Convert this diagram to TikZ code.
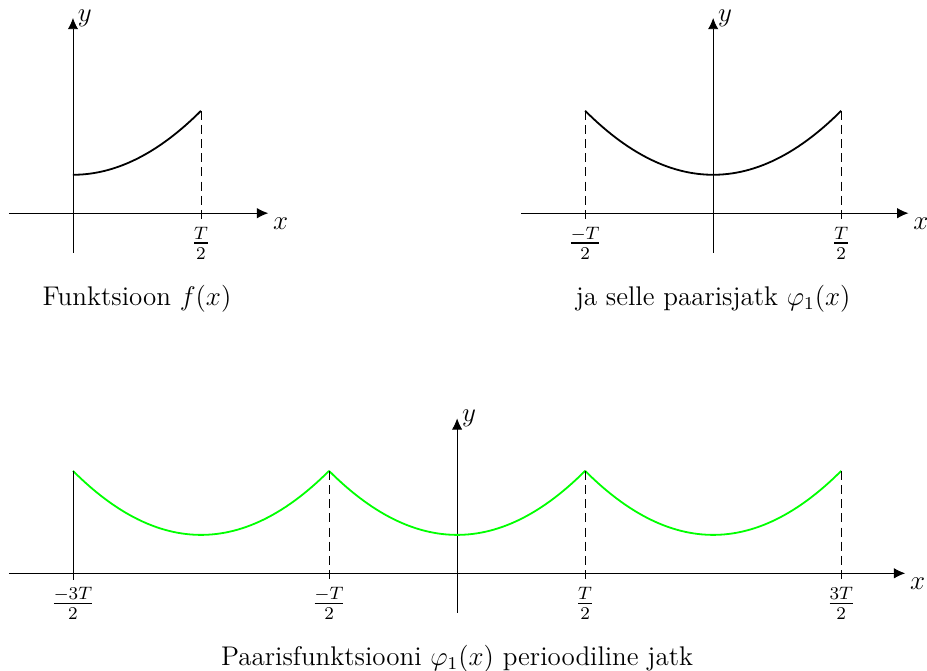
\documentclass[tikz,border=0pt,12pt]{standalone}
\usepackage{amsmath}
\usetikzlibrary{arrows.meta}

\begin{document}
\begin{tikzpicture}[
  axis/.style={-{Latex[length=5pt,width=4.6pt]}},
  curve/.style={thick},
  guide/.style={dash pattern=on 4pt off 2.3pt},
  tick/.style={below, inner sep=3pt},
  caption/.style={align=center}
]
\useasboundingbox (-1.14,-7.14) rectangle (13.34,3.33);

% f(x) on [0,T/2]
\coordinate (xl) at (-1,0);
\coordinate (xr) at (3.05,0);
\coordinate (yd) at (0,-0.62);
\coordinate (yu) at (0,3.05);
\draw[axis] (xl) -- (xr) node[below right, inner sep=2pt] (xlab) {$x$};
\draw[axis] (yd) -- (yu) node[right, inner sep=2pt] (ylab) {$y$};
\draw[curve, domain=0:2, samples=40] plot (\x, {0.6+\x*\x/4});
\draw[guide] (2,1.6) -- (2,-0.1) node[tick] (half) {$\frac{T}{2}$};
\node[caption] (capf) at (1,-1.33) {Funktsioon $f(x)$};

% even extension
\begin{scope}[xshift=10cm]
  \coordinate (exl) at (-3,0);
  \coordinate (exr) at (3.05,0);
  \coordinate (eyd) at (0,-0.62);
  \coordinate (eyu) at (0,3.05);
  \draw[axis] (exl) -- (exr) node[below right, inner sep=2pt] (exlab) {$x$};
  \draw[axis] (eyd) -- (eyu) node[right, inner sep=2pt] (eylab) {$y$};
  \draw[curve, domain=-2:2, samples=60] plot (\x, {0.6+\x*\x/4});
  \draw[guide] (-2,1.6) -- (-2,-0.1) node[tick] (emhalf) {$\frac{-T}{2}$};
  \draw[guide] (2,1.6) -- (2,-0.1) node[tick] (ehalf) {$\frac{T}{2}$};
  \node[caption] (cape) at (0,-1.33) {ja selle paarisjatk $\varphi_1(x)$};
\end{scope}

% periodic extension
\begin{scope}[shift={(6,-5.625)}]
  \coordinate (pxl) at (-7,0);
  \coordinate (pxr) at (7,0);
  \coordinate (pyd) at (0,-0.62);
  \coordinate (pyu) at (0,2.42);
  \draw[axis] (pxl) -- (pxr) node[below right, inner sep=2pt] (pxlab) {$x$};
  \draw[axis] (pyd) -- (pyu) node[right, inner sep=2pt] (pylab) {$y$};
  \foreach \c in {-4,0,4}
    \draw[curve, green, domain=-2:2, samples=60] plot ({\c+\x}, {0.6+\x*\x/4});
  \draw (-6,1.6) -- (-6,-0.1) node[tick] (pm3) {$\frac{-3T}{2}$};
  \draw[guide] (-2,1.6) -- (-2,-0.1) node[tick] (pm1) {$\frac{-T}{2}$};
  \draw[guide] (2,1.6) -- (2,-0.1) node[tick] (pp1) {$\frac{T}{2}$};
  \draw[guide] (6,1.6) -- (6,-0.1) node[tick] (pp3) {$\frac{3T}{2}$};
  \node[caption] (capp) at (0,-1.33) {Paarisfunktsiooni $\varphi_1(x)$ perioodiline jatk};
\end{scope}
\end{tikzpicture}
\end{document}
